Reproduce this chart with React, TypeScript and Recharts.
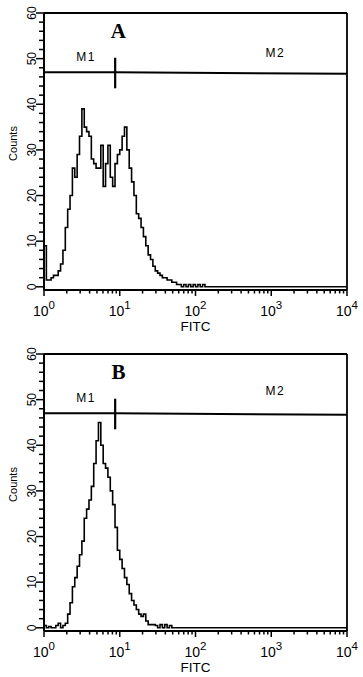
import { LineChart, Line, XAxis, YAxis, ReferenceLine, ReferenceDot } from "recharts";

// counts per channel, 32 channels per decade starting at 10^0 (channels not listed read as 0)
const countsA = [
  9, 1.5, 1.5, 2, 2.5, 2.5, 3.5, 5, 8, 13, 17, 20, 26, 24, 29, 33, 39, 35, 34, 33,
  28, 27, 26, 26, 31, 22, 27, 31, 24, 22, 27, 29, 30, 33, 35, 30, 26, 23, 20, 16,
  15, 13, 11, 9, 7, 6, 4.5, 3.5, 3, 2.5, 2, 2, 1.5, 1.5, 1, 1, 0.5, 0.5, 0, 0.5,
  0, 0.5, 0, 0.5, 0, 0.5, 0, 0.5, 0,
];
const countsB = [
  0.5, 0, 0.3, 0, 0, 0.5, 1, 0, 0.5, 1, 3, 5.5, 9, 11, 13.5, 16, 19, 24, 26, 28,
  31, 36, 41, 45, 40, 36, 35, 33, 30, 27, 22, 17, 15, 13, 11, 9.5, 7.5, 6, 5, 4,
  3, 2.5, 3, 1.5, 0.7, 0.7, 0.7, 0.5, 0, 0.7, 0, 0.7, 0, 0.5, 0,
];

const CH_PER_DECADE = 32;
const decades = [1, 10, 100, 1000, 10000];
const decadeExp = ["0", "1", "2", "3", "4"];
const minorSteps = [2, 3, 4, 5, 6, 7, 8, 9];
const countTicks = Array.from({ length: 31 }, (_, i) => i * 2);

const gateSplit = 8.7;
const gateLevel = 47;

const INK = "#000";
const SANS = "'Liberation Sans', Arial, sans-serif";

const fitcTicks = [
  ...decades,
  ...decades.slice(0, 4).flatMap((d) => minorSteps.map((k) => k * d)),
].sort((a, b) => a - b);

function buildRows(counts: number[]) {
  const rows = [];
  for (let c = 0; c <= 4 * CH_PER_DECADE; c++) {
    rows.push({ fitc: Math.pow(10, c / CH_PER_DECADE), count: counts[c] ?? 0 });
  }
  return rows;
}

function XTick({ x, y, payload }: any) {
  const idx = decades.indexOf(payload.value);
  const major = idx >= 0;
  return (
    <g>
      <line x1={x} x2={x} y1={y} y2={y + (major ? 6 : 3.5)} stroke={INK} strokeWidth={1.5} />
      {major && (
        <text x={x} y={y + 26} textAnchor="middle" fontSize={14} fill={INK} fontFamily={SANS}>
          10
          <tspan dy={-7} fontSize={11.5}>
            {decadeExp[idx]}
          </tspan>
        </text>
      )}
    </g>
  );
}

function YTick({ x, y, payload }: any) {
  const v = payload.value;
  const major = v % 10 === 0;
  return (
    <g>
      <line x1={x - (major ? 8 : 5)} x2={x} y1={y} y2={y} stroke={INK} strokeWidth={1.5} />
      {major && (
        <text
          transform={`translate(${x - 8},${y}) rotate(-90)`}
          textAnchor="middle"
          fontSize={12}
          fill={INK}
          fontFamily={SANS}
        >
          {v}
        </text>
      )}
    </g>
  );
}

const textAt = (value: string, size: number, family = SANS, weight = "normal", spacing = 0) =>
  (p: any) => (
    <text
      x={p.cx}
      y={p.cy}
      dy="0.35em"
      textAnchor="middle"
      fontSize={size}
      fontFamily={family}
      fontWeight={weight}
      letterSpacing={spacing}
      fill={INK}
    >
      {value}
    </text>
  );

function Histogram({ letter, counts, height, top, axisHeight, m2y }: any) {
  const rows = buildRows(counts);
  return (
    <LineChart width={363} height={height} data={rows} margin={{ top, right: 16, bottom: 0, left: 0 }}>
      <XAxis
        dataKey="fitc"
        type="number"
        scale="log"
        domain={[1, 10000]}
        ticks={fitcTicks}
        interval={0}
        tickSize={0}
        tickMargin={0}
        tickLine={false}
        tick={XTick}
        height={axisHeight}
        axisLine={{ stroke: INK, strokeWidth: 2 }}
        allowDataOverflow
        label={(p: any) => (
          <text
            x={p.viewBox.x + p.viewBox.width / 2}
            y={p.viewBox.y + 41}
            textAnchor="middle"
            fontSize={13.5}
            fontFamily={SANS}
            fill={INK}
          >
            FITC
          </text>
        )}
      />
      <YAxis
        type="number"
        domain={[-0.7, 60]}
        ticks={countTicks}
        interval={0}
        tickSize={0}
        tickMargin={0}
        tickLine={false}
        tick={YTick}
        width={44}
        axisLine={{ stroke: INK, strokeWidth: 2 }}
        allowDataOverflow
        label={(p: any) => (
          <text
            transform={`translate(${p.viewBox.x + 17},${p.viewBox.y + p.viewBox.height / 2 - 8}) rotate(-90)`}
            textAnchor="middle"
            fontSize={11}
            fontFamily={SANS}
            fill={INK}
          >
            Counts
          </text>
        )}
      />
      <ReferenceLine y={60} stroke={INK} strokeWidth={1.8} />
      <ReferenceLine x={10000} stroke={INK} strokeWidth={1.8} />
      <ReferenceLine
        segment={[{ x: 1, y: gateLevel }, { x: gateSplit, y: gateLevel }]}
        stroke={INK}
        strokeWidth={2}
      />
      <ReferenceLine
        segment={[{ x: gateSplit, y: gateLevel }, { x: 10000, y: gateLevel - 0.3 }]}
        stroke={INK}
        strokeWidth={2}
      />
      <ReferenceLine
        segment={[{ x: gateSplit, y: 43.5 }, { x: gateSplit, y: 50.2 }]}
        stroke={INK}
        strokeWidth={2.2}
      />
      <ReferenceDot x={3.6} y={50.4} r={0} shape={textAt("M1", 12, SANS, "normal", 1.5)} />
      <ReferenceDot x={1130} y={m2y} r={0} shape={textAt("M2", 12, SANS, "normal", 1.5)} />
      <ReferenceDot x={9.6} y={56.2} r={0} shape={textAt(letter, 21, "'Liberation Serif', 'Times New Roman', serif", "bold")} />
      <Line
        type="stepAfter"
        dataKey="count"
        stroke={INK}
        strokeWidth={1.6}
        dot={false}
        isAnimationActive={false}
      />
    </LineChart>
  );
}

export default function App() {
  return (
    <div style={{ position: "absolute", left: 0, top: 0, width: 363, height: 677, background: "#fff" }}>
      <Histogram letter="A" counts={countsA} height={338} top={13} axisHeight={48} m2y={51.3} />
      <Histogram letter="B" counts={countsB} height={339} top={16} axisHeight={46} m2y={52} />
    </div>
  );
}
